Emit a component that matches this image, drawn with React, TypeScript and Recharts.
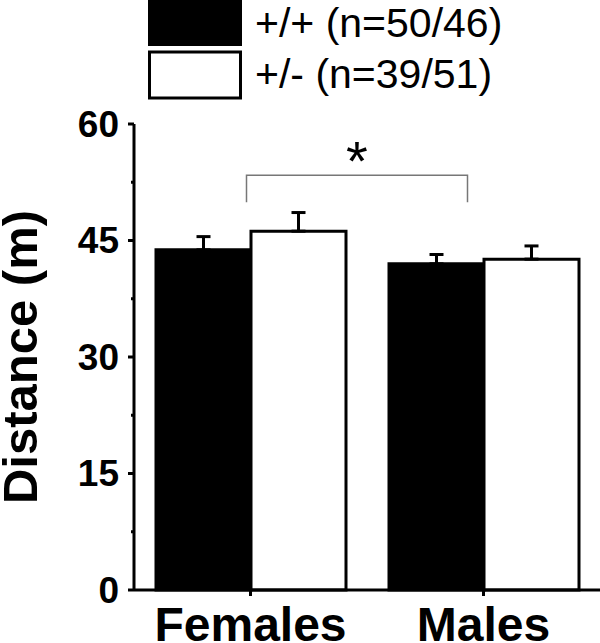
import React from "react";
import {
	Bar,
	BarChart,
	ErrorBar,
	Legend,
	ReferenceLine,
	XAxis,
	YAxis,
} from "recharts";

const groups = ["Females", "Males"];
const wildType = [43.8, 42.0];
const wildTypeErr = [1.7, 1.2];
const hetero = [46.2, 42.6];
const heteroErr = [2.4, 1.7];
const seriesNames = ["+/+ (n=50/46)", "+/- (n=39/51)"];
const majorTicks = [0, 15, 30, 45, 60];
const minorTicks = [7.5, 22.5, 37.5, 52.5];
const bracketLevel = 53.4;

const data = groups.map((g, i) => ({
	group: g,
	wt: wildType[i],
	wtErr: [0, wildTypeErr[i]],
	het: hetero[i],
	hetErr: [0, heteroErr[i]],
}));

const FONT = "'Liberation Sans', Arial, sans-serif";
const TICK_SIZE = 6;
const TICK_MARGIN = 9;

const YTick = (props: any) => {
	const { x, y, payload } = props;
	const axisX = x + TICK_SIZE + TICK_MARGIN;
	const major = majorTicks.includes(payload.value);
	return (
		<g>
			<line
				x1={axisX - (major ? TICK_SIZE : 3)}
				x2={axisX}
				y1={y}
				y2={y}
				stroke='#000'
				strokeWidth={3}
			/>
			{major && (
				<text
					x={x}
					y={y}
					textAnchor='end'
					dominantBaseline='central'
					fontFamily={FONT}
					fontWeight='bold'
					fontSize={37}
					fill='#000'
				>
					{payload.value}
				</text>
			)}
		</g>
	);
};

const YLabel = (props: any) => {
	const vb = props.viewBox || { x: 0, y: 124, width: 134, height: 466 };
	const cx = vb.x + 37;
	const cy = vb.y + vb.height / 2;
	return (
		<text
			x={cx}
			y={cy}
			transform={`rotate(-90, ${cx}, ${cy})`}
			textAnchor='middle'
			fontFamily={FONT}
			fontWeight='bold'
			fontSize={49}
			fill='#000'
		>
			Distance (m)
		</text>
	);
};

const Bracket = (p: any) => {
	const left = p.x1 - 4;
	const right = p.x2 - 16;
	const top = p.y1;
	return (
		<g>
			<path
				d={`M${left},${top + 27}V${top}H${right}V${top + 27}`}
				stroke='#777'
				strokeWidth={1.5}
				fill='none'
			/>
			<text
				x={(left + right) / 2}
				y={top - 27 + 0.57 * 56}
				textAnchor='middle'
				fontFamily={FONT}
				fontSize={56}
				fill='#000'
			>
				*
			</text>
		</g>
	);
};

const LegendBox = () => (
	<svg width={600} height={104}>
		<rect x={148} y={-2} width={94} height={48} fill='#000' />
		<rect
			x={149.5}
			y={52}
			width={91}
			height={46}
			fill='#fff'
			stroke='#000'
			strokeWidth={3}
		/>
		{seriesNames.map((n, i) => (
			<text
				key={n}
				x={255}
				y={37 + i * 51}
				fontFamily={FONT}
				fontSize={41}
				fill='#000'
			>
				{n}
			</text>
		))}
	</svg>
);

export default function App() {
	return (
		<div style={{ position: "absolute", left: 0, top: 0 }}>
			<BarChart
				width={600}
				height={643}
				data={data}
				margin={{ top: 124, right: 0, left: 0, bottom: 0 }}
				barCategoryGap={22}
				barGap={0}
			>
				<XAxis
					dataKey='group'
					height={53}
					axisLine={{ stroke: "#000", strokeWidth: 3 }}
					tickLine={{ stroke: "#000", strokeWidth: 3 }}
					tickSize={6}
					tickMargin={11}
					tick={{
						fill: "#000",
						fontSize: 48,
						fontWeight: "bold",
						fontFamily: FONT,
					}}
				/>
				<YAxis
					width={134}
					domain={[0, 60]}
					ticks={[...majorTicks, ...minorTicks].sort((a, b) => a - b)}
					interval={0}
					axisLine={{ stroke: "#000", strokeWidth: 3 }}
					tickLine={false}
					tickSize={TICK_SIZE}
					tickMargin={TICK_MARGIN}
					tick={<YTick />}
					label={<YLabel />}
				/>
				<Legend
					layout='vertical'
					align='center'
					verticalAlign='middle'
					wrapperStyle={{ top: 0, left: 0, width: 600, height: 104 }}
					content={() => <LegendBox />}
				/>
				<Bar
					dataKey='wt'
					name={seriesNames[0]}
					fill='#000'
					stroke='#000'
					strokeWidth={3}
					isAnimationActive={false}
				>
					<ErrorBar
						dataKey='wtErr'
						width={7}
						stroke='#000'
						strokeWidth={3}
						direction='y'
					/>
				</Bar>
				<Bar
					dataKey='het'
					name={seriesNames[1]}
					fill='#fff'
					stroke='#000'
					strokeWidth={3}
					isAnimationActive={false}
				>
					<ErrorBar
						dataKey='hetErr'
						width={7}
						stroke='#000'
						strokeWidth={3}
						direction='y'
					/>
				</Bar>
				<ReferenceLine
					segment={[
						{ x: groups[0], y: bracketLevel },
						{ x: groups[1], y: bracketLevel },
					]}
					shape={<Bracket />}
				/>
			</BarChart>
		</div>
	);
}
